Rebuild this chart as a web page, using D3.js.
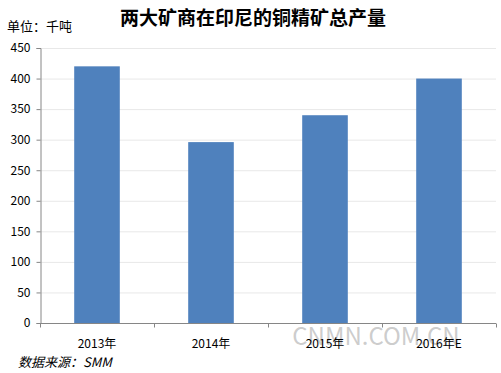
<!DOCTYPE html>
<html>
<head>
<meta charset="utf-8">
<script src="https://cdn.jsdelivr.net/npm/d3@7"></script>
<style>
  body { margin: 0; background: #fff; }
  text { font-family: "Noto Sans CJK SC", "DejaVu Sans", sans-serif; }
</style>
</head>
<body>
<svg id="chart" width="501" height="373"></svg>
<script>
// Chart data
const years = ['2013年', '2014年', '2015年', '2016年E'];
const output = [420, 296, 340, 400];
const yTicks = [0, 50, 100, 150, 200, 250, 300, 350, 400, 450];

const svg = d3.select('#chart');
const margin = { left: 40, right: 5, top: 48, bottom: 50 };
const width = 501, height = 373;

const x = d3.scaleBand()
  .domain(years)
  .range([margin.left, width - margin.right]);

const y = d3.scaleLinear()
  .domain([0, 450])
  .range([height - margin.bottom, margin.top]);

// Watermark (sits behind the axis labels, as in the original)
svg.append('text')
  .attr('x', 376)
  .attr('y', 345)
  .attr('text-anchor', 'middle')
  .attr('font-size', 24)
  .attr('font-family', '"DejaVu Sans", sans-serif')
  .attr('fill', '#c0c0c0')
  .attr('fill-opacity', 0.8)
  .text('CNMN.COM.CN');

// Gridlines
svg.append('g')
  .selectAll('line')
  .data(yTicks.slice(1))
  .enter()
  .append('line')
  .attr('x1', margin.left)
  .attr('x2', width - margin.right)
  .attr('y1', d => y(d) + 0.5)
  .attr('y2', d => y(d) + 0.5)
  .attr('stroke', '#e8e8e8');

// Bars
const barW = x.bandwidth() * 0.4;
svg.append('g')
  .selectAll('rect')
  .data(output)
  .enter()
  .append('rect')
  .attr('x', (d, i) => x(years[i]) + (x.bandwidth() - barW) / 2)
  .attr('y', d => y(d))
  .attr('width', barW)
  .attr('height', d => y(0) - y(d))
  .attr('fill', '#4f81bd');

// Y axis
const yAxis = svg.append('g')
  .attr('transform', `translate(${margin.left + 0.5},0)`)
  .call(d3.axisLeft(y).tickValues(yTicks).tickSize(4).tickPadding(6));
yAxis.select('.domain').attr('stroke', '#868686');
yAxis.selectAll('.tick line').attr('stroke', '#868686');
yAxis.selectAll('text').attr('font-size', 12).attr('fill', '#000')
  .attr('font-family', '"DejaVu Sans", sans-serif');

// X axis: ticks at band boundaries
const xAxis = svg.append('g')
  .attr('transform', `translate(0,${y(0) + 0.5})`);
xAxis.append('line')
  .attr('x1', margin.left)
  .attr('x2', width - margin.right)
  .attr('stroke', '#868686');
const bounds = years.map(d => x(d)).concat([x.range()[1]]);
xAxis.selectAll('.bt')
  .data(bounds)
  .enter()
  .append('line')
  .attr('x1', d => Math.round(d) + 0.5)
  .attr('x2', d => Math.round(d) + 0.5)
  .attr('y1', 0)
  .attr('y2', 4)
  .attr('stroke', '#868686');
xAxis.selectAll('.lbl')
  .data(years)
  .enter()
  .append('text')
  .attr('x', d => x(d) + x.bandwidth() / 2)
  .attr('y', 24)
  .attr('text-anchor', 'middle')
  .attr('font-size', 12)
  .text(d => d);

// Title and notes
svg.append('text')
  .attr('x', 253)
  .attr('y', 25)
  .attr('text-anchor', 'middle')
  .attr('font-size', 19)
  .attr('font-weight', 'bold')
  .text('两大矿商在印尼的铜精矿总产量');

svg.append('text')
  .attr('x', 7)
  .attr('y', 31)
  .attr('font-size', 13)
  .text('单位：千吨');

svg.append('text')
  .attr('x', 18)
  .attr('y', 367)
  .attr('font-size', 13)
  .attr('font-style', 'italic')
  .text('数据来源：SMM');
</script>
</body>
</html>
